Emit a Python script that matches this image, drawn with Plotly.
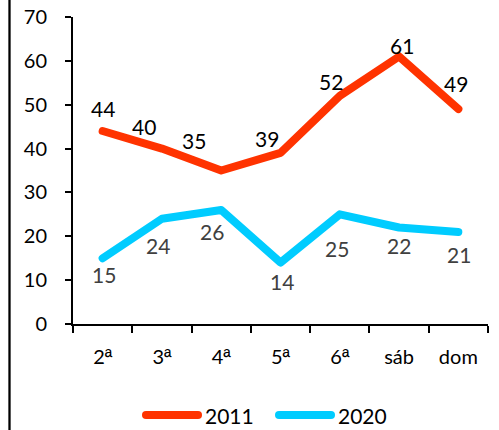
import plotly.graph_objects as go

days = ["2ª", "3ª", "4ª", "5ª", "6ª", "sáb", "dom"]
y2011 = [44, 40, 35, 39, 52, 61, 49]
y2020 = [15, 24, 26, 14, 25, 22, 21]

# label offsets (px) as placed in the original chart
off2011 = [(0, 23), (-18, 22), (-27, 30), (-14, 14), (-9, 14), (3, 11), (-2, 26)]
off2020 = [(1, -16), (-4, -27), (-9, -22), (1, -19), (-3, -34), (0, -18), (1, -23)]

RED = "#FF3300"
BLUE = "#00CCFF"
FONT = "Lato, Carlito, sans-serif"

fig = go.Figure()
fig.add_trace(go.Scatter(x=days, y=y2011, name="2011", mode="lines",
                         line=dict(color=RED, width=8), showlegend=False,
                         hoverinfo="skip"))
fig.add_trace(go.Scatter(x=days, y=y2020, name="2020", mode="lines",
                         line=dict(color=BLUE, width=8), showlegend=False,
                         hoverinfo="skip"))

for vals, offs, col in [(y2011, off2011, "#000000"), (y2020, off2020, "#404040")]:
    for d, v, (dx, dy) in zip(days, vals, offs):
        fig.add_annotation(x=d, y=v, text=str(v), showarrow=False,
                           xshift=dx, yshift=dy,
                           font=dict(size=21, color=col, family=FONT))

# custom legend (paper coords)
def px_x(p):
    return (p - 73) / 415

def px_y(p):
    return (324 - p) / 307

for x0, x1, col, label in [(142, 202, RED, "2011"), (275, 335, BLUE, "2020")]:
    fig.add_shape(type="line", xref="paper", yref="paper",
                  x0=px_x(x0 + 4), x1=px_x(x1 - 4), y0=px_y(415), y1=px_y(415),
                  line=dict(color=col, width=8))
    fig.add_annotation(xref="paper", yref="paper", x=px_x(x1 + 1), y=px_y(415),
                       text=label, showarrow=False, xanchor="left", yanchor="middle",
                       font=dict(size=21, color="#000000", family=FONT))

# left border line
fig.add_shape(type="line", xref="paper", yref="paper",
              x0=px_x(9.5), x1=px_x(9.5), y0=px_y(440), y1=px_y(-10),
              line=dict(color="#000000", width=2.3))

# underlined ordinal mark like the original font
ticktext = [d.replace("ª", "<span style=\"font-family:'Liberation Sans'\">ª</span>")
            for d in days]

fig.update_layout(
    width=499, height=430,
    margin=dict(l=73, r=11, t=17, b=106, autoexpand=False),
    paper_bgcolor="white", plot_bgcolor="white",
    font=dict(family=FONT, size=20, color="#000000"),
    showlegend=False,
)
fig.update_xaxes(type="category", range=[-0.5, 6.5], tickson="boundaries",
                 tickvals=days, ticktext=ticktext,
                 showgrid=False, showline=True, linecolor="#000000", linewidth=2,
                 ticks="outside", ticklen=7, tickwidth=2, tickcolor="#000000",
                 ticklabelstandoff=14, zeroline=False, automargin=False)
fig.update_yaxes(range=[0, 70], dtick=10, showgrid=False, showline=True,
                 linecolor="#000000", linewidth=2, ticks="outside", ticklen=6,
                 tickwidth=2, tickcolor="#000000", ticklabelstandoff=14,
                 zeroline=False, automargin=False)

fig.write_html(
    "out.html",
    config={"displayModeBar": False},
    post_script=(
        "document.body.style.margin='0';"
        "document.querySelectorAll('.js-line, .shapelayer path')"
        ".forEach(function(p){p.style.strokeLinecap='round';p.style.strokeLinejoin='round';});"
    ),
)
